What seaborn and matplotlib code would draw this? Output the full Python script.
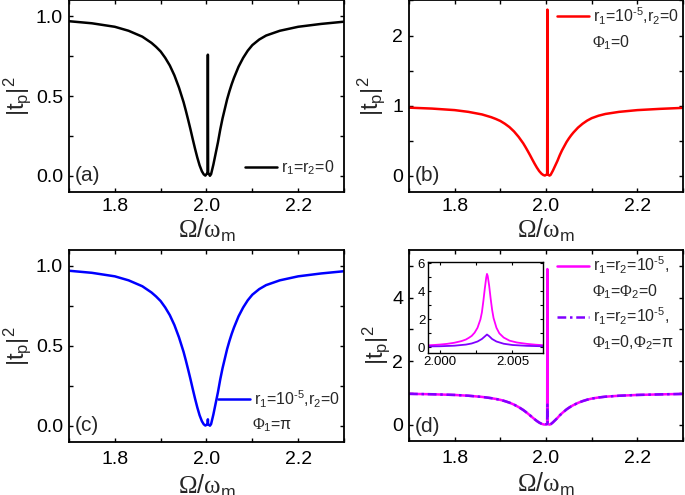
import matplotlib
matplotlib.use("Agg")
import matplotlib.pyplot as plt
from matplotlib.ticker import MultipleLocator, FormatStrFormatter
import seaborn as sns

# probe frequency Omega/omega_m (main panels): left wing, spike, right wing
omega_left = [1.70, 1.75, 1.80, 1.83, 1.86, 1.88, 1.89, 1.90, 1.91, 1.92,
              1.93, 1.94, 1.95, 1.955, 1.96, 1.965, 1.97, 1.975, 1.98, 1.985,
              1.99, 1.994, 1.9975]
omega_spike = [2.0025, 2.003, 2.0035]
omega_right = [2.0075, 2.01, 2.015, 2.02, 2.025, 2.03, 2.035, 2.04, 2.045,
               2.05, 2.055, 2.06, 2.07, 2.08, 2.09, 2.10, 2.115, 2.13, 2.16,
               2.20, 2.25, 2.30]
omega = omega_left + omega_spike + omega_right

# |t_p|^2 away from the spike (same in every panel)
dip = [0.970, 0.957, 0.935, 0.910, 0.873, 0.834, 0.809, 0.780, 0.740, 0.692,
       0.630, 0.553, 0.462, 0.408, 0.351, 0.292, 0.230, 0.170, 0.114, 0.065,
       0.028, 0.009, 0.001]
rise = [0.0, 0.01, 0.07, 0.14, 0.21, 0.29, 0.36, 0.42, 0.48, 0.53, 0.575,
        0.615, 0.685, 0.74, 0.785, 0.82, 0.855, 0.88, 0.91, 0.935, 0.953, 0.967]

# values at the resonance near 2.003
spike_a = [0.02, 0.76, 0.02]
spike_b = [0.02, 2.37, 0.02]
spike_c = [0.01, 0.04, 0.01]
spike_d1 = [0.02, 4.9, 0.02]
spike_d2 = [0.02, 0.63, 0.02]

tp_a = dip + spike_a + rise
tp_b = dip + spike_b + rise
tp_c = dip + spike_c + rise
tp_d1 = dip + spike_d1 + rise
tp_d2 = dip + spike_d2 + rise

# inset of (d), zoom on the spike
omega_in1 = [1.9992, 1.9996, 2.000, 2.0005, 2.001, 2.0015, 2.0018, 2.002,
             2.0022, 2.0024, 2.0026, 2.0028, 2.0029, 2.003, 2.0031, 2.0032,
             2.00325, 2.0033, 2.0034, 2.0035, 2.0036, 2.0037, 2.0039, 2.0041,
             2.0044, 2.0048, 2.0053, 2.006, 2.0066, 2.0071]
tp_in1 = [0.15, 0.17, 0.2, 0.25, 0.33, 0.45, 0.56, 0.68, 0.82, 1.05, 1.4,
          2.0, 2.5, 3.3, 4.2, 5.0, 5.25, 5.1, 4.4, 3.5, 2.7, 2.1, 1.4, 1.0,
          0.7, 0.48, 0.35, 0.25, 0.19, 0.16]
omega_in2 = [1.9992, 2.000, 2.001, 2.0018, 2.0022, 2.0026, 2.0029, 2.0031,
             2.00325, 2.0034, 2.0036, 2.0039, 2.0044, 2.005, 2.006, 2.0071]
tp_in2 = [0.07, 0.08, 0.12, 0.2, 0.28, 0.42, 0.6, 0.78, 0.92, 0.8, 0.6,
          0.42, 0.26, 0.17, 0.11, 0.08]

sns.set_style("ticks")
plt.rcParams["font.family"] = ["Liberation Sans", "DejaVu Sans"]
plt.rcParams["mathtext.fontset"] = "custom"
plt.rcParams["mathtext.rm"] = "Liberation Sans"
plt.rcParams["mathtext.it"] = "Liberation Sans:italic"
plt.rcParams["mathtext.bf"] = "Liberation Serif"
plt.rcParams["mathtext.default"] = "regular"
plt.rcParams["axes.linewidth"] = 1.3

VIOLET = "#8000ff"
MAGENTA = "#ff00ff"
XLAB = r"$\mathbf{\Omega}/\mathbf{\omega}_m$"
YLAB = r"$|t_p|^2$"
LEG_FS = 11.5
M5 = r"10$^{\text{-}5}$"
PHI = r"\mathbf{\Phi}"

fig = plt.figure(figsize=(6.85, 4.95), dpi=100)
ax_a = fig.add_axes([0.1007, 0.6127, 0.4015, 0.3863])
ax_b = fig.add_axes([0.5971, 0.6127, 0.4000, 0.3863])
ax_c = fig.add_axes([0.1007, 0.1077, 0.4015, 0.3873])
ax_d = fig.add_axes([0.5971, 0.1101, 0.4000, 0.3848])
ax_in = fig.add_axes([0.6248, 0.2869, 0.1680, 0.1838])


def style_axis(ax, ylim, ymaj, ymin, yfmt, xpad, ylab_x, xlab_y):
    ax.set_xlim(1.7, 2.3)
    ax.set_ylim(*ylim)
    ax.xaxis.set_major_locator(MultipleLocator(0.2))
    ax.xaxis.set_minor_locator(MultipleLocator(0.1))
    ax.xaxis.set_major_formatter(FormatStrFormatter("%.1f"))
    ax.yaxis.set_major_locator(MultipleLocator(ymaj))
    ax.yaxis.set_minor_locator(MultipleLocator(ymin))
    ax.yaxis.set_major_formatter(FormatStrFormatter(yfmt))
    ax.tick_params(which="both", direction="in", top=True, right=True,
                   length=3, width=1, labelsize=14, colors="black")
    ax.tick_params(axis="x", pad=xpad)
    ax.tick_params(axis="y", pad=4.3)
    ax.set_xlabel(XLAB, fontsize=18)
    ax.set_ylabel(YLAB, fontsize=17, va="center")
    ax.yaxis.set_label_coords(ylab_x, 0.5)
    ax.xaxis.set_label_coords(0.5, xlab_y)
    for s in ax.spines.values():
        s.set_color("black")


def leg(ax, line, text, x, y, add=False):
    lg = ax.legend(handles=[line], labels=[text], loc="center left",
                   bbox_to_anchor=(x, y), frameon=False, fontsize=LEG_FS,
                   handlelength=2.0, handletextpad=0.25, borderpad=0,
                   borderaxespad=0)
    if add:
        ax.add_artist(lg)
    return lg


def note(ax, text, x, y, fs=LEG_FS):
    ax.text(x, y, text, transform=ax.transAxes, fontsize=fs,
            va="center", ha="left")


# (a)
sns.lineplot(x=omega, y=tp_a, ax=ax_a, color="black", lw=1.8, estimator=None)
style_axis(ax_a, (-0.1, 1.1), 0.5, 0.25, "%.1f", 4.5, -0.19, -0.13)
leg(ax_a, ax_a.lines[0], r"$r_1$=$r_2$=0", 0.64, 0.124)
note(ax_a, "(a)", 0.022, 0.087, 15)

# (b)
sns.lineplot(x=omega, y=tp_b, ax=ax_b, color="red", lw=1.8, estimator=None)
style_axis(ax_b, (-0.23, 2.5), 1, 0.5, "%.0f", 4.5, -0.139, -0.13)
leg(ax_b, ax_b.lines[0], r"$r_1$=" + M5 + r",$r_2$=0", 0.54, 0.919)
note(ax_b, r"$%s_1$=0" % PHI, 0.668, 0.778)
note(ax_b, "(b)", 0.022, 0.084, 15)

# (c)
sns.lineplot(x=omega, y=tp_c, ax=ax_c, color="blue", lw=1.8, estimator=None)
style_axis(ax_c, (-0.1, 1.1), 0.5, 0.25, "%.1f", 6.5, -0.19, -0.16)
leg(ax_c, ax_c.lines[0], r"$r_1$=" + M5 + r",$r_2$=0", 0.542, 0.223)
note(ax_c, r"$%s_1$=$\pi$" % PHI, 0.665, 0.087)
note(ax_c, "(c)", 0.022, 0.087, 15)

# (d)
sns.lineplot(x=omega, y=tp_d1, ax=ax_d, color=MAGENTA, lw=1.8, estimator=None)
sns.lineplot(x=omega, y=tp_d2, ax=ax_d, color=VIOLET, lw=1.8, estimator=None,
             linestyle=(0, (3.5, 1.5, 1, 1.5)))
style_axis(ax_d, (-0.5, 5.5), 2, 1, "%.0f", 6.5, -0.12, -0.16)
leg(ax_d, ax_d.lines[0], r"$r_1$=$r_2$=" + M5 + ",", 0.54, 0.918, add=True)
leg(ax_d, ax_d.lines[1], r"$r_1$=$r_2$=" + M5 + ",", 0.54, 0.65)
note(ax_d, r"$%s_1$=$%s_2$=0" % (PHI, PHI), 0.668, 0.781)
note(ax_d, r"$%s_1$=0,$%s_2$=$\pi$" % (PHI, PHI), 0.668, 0.512)
note(ax_d, "(d)", 0.022, 0.072, 15)

# inset
sns.lineplot(x=omega_in1, y=tp_in1, ax=ax_in, color=MAGENTA, lw=1.3, estimator=None)
sns.lineplot(x=omega_in2, y=tp_in2, ax=ax_in, color=VIOLET, lw=1.3, estimator=None)
ax_in.set_xlim(1.9992, 2.0071)
ax_in.set_ylim(-0.4, 6.1)
ax_in.xaxis.set_major_locator(MultipleLocator(0.005))
ax_in.xaxis.set_minor_locator(MultipleLocator(0.0025))
ax_in.xaxis.set_major_formatter(FormatStrFormatter("%.3f"))
ax_in.yaxis.set_major_locator(MultipleLocator(2))
ax_in.yaxis.set_minor_locator(MultipleLocator(1))
ax_in.tick_params(which="both", direction="in", top=True, right=True,
                  length=2.5, width=0.8, labelsize=9.5, pad=2, colors="black")
for s in ax_in.spines.values():
    s.set_linewidth(1.0)
    s.set_color("black")

fig.savefig("out.png", dpi=100)
